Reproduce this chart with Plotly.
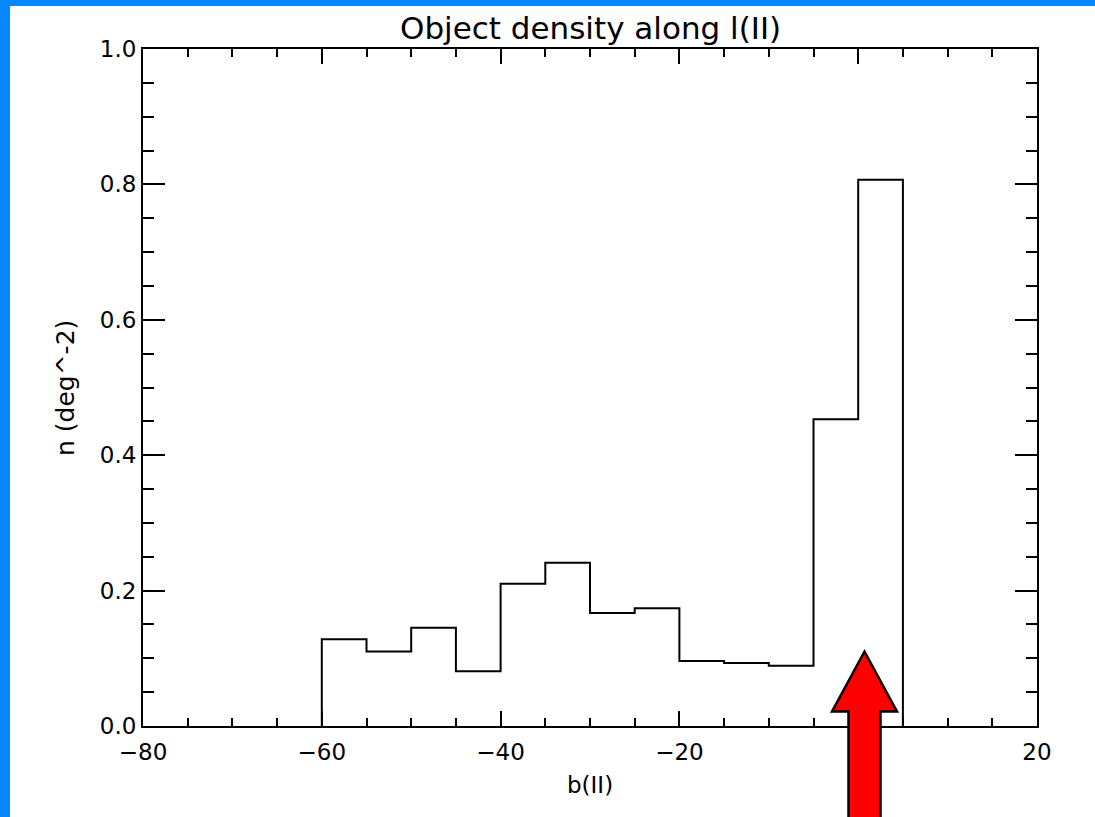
import plotly.graph_objects as go

# ---- data ----
bin_edges = [-60, -55, -50, -45, -40, -35, -30, -25, -20, -15, -10, -5, 0, 5]
density = [0.128, 0.110, 0.145, 0.081, 0.210, 0.241, 0.167, 0.174,
           0.096, 0.093, 0.089, 0.453, 0.807]
x_ticks = [-80, -60, -40, -20, 0, 20]
x_ticklabels = ["−80", "−60", "−40", "−20", "", "20"]
y_ticks = [0.0, 0.2, 0.4, 0.6, 0.8, 1.0]
y_ticklabels = ["0.0", "0.2", "0.4", "0.6", "0.8", "1.0"]

W, H = 1095, 817
L, R, T, B = 143, 1037, 49, 726  # plot area in pixels


def px(xp):
    return (xp - L) / (R - L)


def py(yp):
    return (B - yp) / (B - T)


FONT = "DejaVu Sans"

step_x = [bin_edges[0]] + bin_edges[:-1] + [bin_edges[-1]]
step_y = [0] + density + [0]

fig = go.Figure()
fig.add_trace(go.Scatter(
    x=step_x, y=step_y, mode="lines",
    line=dict(shape="hv", color="black", width=2),
    hoverinfo="skip", showlegend=False, cliponaxis=False,
))

# white slide panel over the blue background
fig.add_shape(type="rect", xref="paper", yref="paper",
              x0=px(10), x1=px(W + 5), y0=py(H + 5), y1=py(6),
              fillcolor="white", line=dict(width=0), layer="below")

# red block arrow (annotation)
tip_x, tip_y = 864.5, 651.5
head_y = 711.5
head_l, head_r = 832, 897
sh_l, sh_r = 848.5, 880.5
bot = H + 10
pts = [(tip_x, tip_y), (head_r, head_y), (sh_r, head_y), (sh_r, bot),
       (sh_l, bot), (sh_l, head_y), (head_l, head_y)]
path = "M " + " L ".join(f"{px(a):.5f},{py(b):.5f}" for a, b in pts) + " Z"
fig.add_shape(type="path", xref="paper", yref="paper", path=path,
              fillcolor="#ff0000", line=dict(color="black", width=2.5),
              layer="above")

axis_common = dict(
    showgrid=False, zeroline=False, showline=True, linecolor="black",
    linewidth=2, mirror="ticks", ticks="inside", tickcolor="black",
    tickwidth=2, tickfont=dict(family=FONT, size=23, color="black"),
)

fig.update_xaxes(range=[-80, 20], tickmode="array", tickvals=x_ticks,
                 ticktext=x_ticklabels, ticklen=15, ticklabelstandoff=4,
                 minor=dict(dtick=5, ticklen=8, tickwidth=2,
                            tickcolor="black", ticks="inside"),
                 **axis_common)
fig.update_yaxes(range=[0, 1.0], tickmode="array", tickvals=y_ticks,
                 ticktext=y_ticklabels, ticklen=22,
                 minor=dict(dtick=0.05, ticklen=11, tickwidth=2,
                            tickcolor="black", ticks="inside"),
                 **axis_common)

fig.add_annotation(text="Object density along l(II)", xref="paper",
                   yref="paper", x=px(590), y=py(28), showarrow=False,
                   xanchor="center", yanchor="middle",
                   font=dict(family=FONT, size=31, color="black"))
fig.add_annotation(text="b(II)", xref="paper", yref="paper",
                   x=px(590), y=py(785), showarrow=False,
                   xanchor="center", yanchor="middle",
                   font=dict(family=FONT, size=23, color="black"))
fig.add_annotation(text="n (deg^-2)", xref="paper", yref="paper",
                   x=px(66), y=py(388), showarrow=False, textangle=-90,
                   xanchor="center", yanchor="middle",
                   font=dict(family=FONT, size=25, color="black"))

fig.update_layout(
    width=W, height=H,
    margin=dict(l=L, r=W - R, t=T, b=H - B, pad=0),
    paper_bgcolor="#0688ff", plot_bgcolor="white",
    showlegend=False,
)

fig.write_html("out.html", config={"displayModeBar": False})
